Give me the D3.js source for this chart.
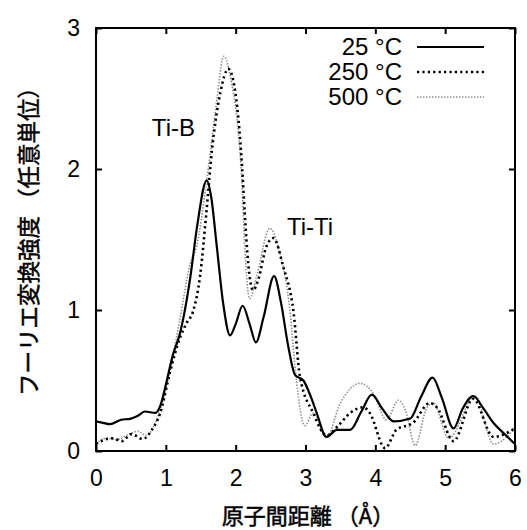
<!DOCTYPE html>
<html>
<head>
<meta charset="utf-8">
<script src="https://cdn.jsdelivr.net/npm/d3@7"></script>
<style>
  body { margin: 0; background: #fff; }
  text { font-family: "Liberation Sans", Arial, sans-serif; fill: #000; }
  .cjk { font-family: "Noto Sans CJK JP", sans-serif; }
</style>
</head>
<body>
<svg width="527" height="530"></svg>
<script>
// values: [distance (Å), intensity]
const series25 = [
  [0, 0.21], [0.1, 0.2], [0.2, 0.19], [0.35, 0.22], [0.5, 0.23], [0.6, 0.25],
  [0.7, 0.28], [0.85, 0.27], [0.92, 0.32], [1.0, 0.47], [1.1, 0.68], [1.2, 0.83],
  [1.35, 1.23], [1.45, 1.6], [1.585, 1.92], [1.65, 1.8], [1.73, 1.45], [1.82, 1.05],
  [1.92, 0.82], [2.0, 0.9], [2.1, 1.03], [2.2, 0.9], [2.29, 0.77], [2.4, 0.95],
  [2.55, 1.24], [2.65, 1.05], [2.75, 0.75], [2.85, 0.54], [2.97, 0.5], [3.08, 0.38],
  [3.16, 0.27], [3.3, 0.1], [3.45, 0.15], [3.64, 0.15], [3.8, 0.28], [3.95, 0.4],
  [4.1, 0.3], [4.26, 0.21], [4.5, 0.23], [4.65, 0.38], [4.82, 0.52], [4.95, 0.38],
  [5.12, 0.16], [5.25, 0.3], [5.4, 0.39], [5.55, 0.3], [5.69, 0.2], [5.85, 0.12],
  [6.0, 0.05]
];

const series250 = [
  [0, 0.05], [0.12, 0.08], [0.24, 0.09], [0.37, 0.07], [0.51, 0.12], [0.67, 0.085],
  [0.8, 0.15], [0.92, 0.27], [1.06, 0.56], [1.2, 0.8], [1.3, 0.91], [1.39, 0.99],
  [1.49, 1.24], [1.58, 1.69], [1.66, 2.13], [1.78, 2.54], [1.895, 2.71], [2.01, 2.49],
  [2.1, 1.95], [2.13, 1.69], [2.18, 1.33], [2.25, 1.14], [2.32, 1.21], [2.44, 1.45],
  [2.54, 1.51], [2.68, 1.31], [2.83, 0.98], [2.92, 0.53], [3.11, 0.27], [3.3, 0.11],
  [3.47, 0.18], [3.64, 0.27], [3.83, 0.31], [3.92, 0.27], [4.14, 0.02], [4.3, 0.15],
  [4.54, 0.2], [4.78, 0.34], [4.88, 0.31], [5.12, 0.07], [5.4, 0.37], [5.69, 0.1],
  [6.0, 0.16]
];

const series500 = [
  [0, 0.05], [0.15, 0.09], [0.3, 0.08], [0.44, 0.11], [0.6, 0.14], [0.72, 0.11],
  [0.85, 0.2], [0.96, 0.36], [1.06, 0.57], [1.2, 0.93], [1.35, 1.33], [1.44, 1.45],
  [1.58, 1.9], [1.63, 2.09], [1.73, 2.49], [1.83, 2.8], [1.94, 2.61], [2.04, 2.25],
  [2.09, 1.9], [2.13, 1.45], [2.2, 1.08], [2.3, 1.24], [2.49, 1.58], [2.61, 1.45],
  [2.78, 0.98], [2.87, 0.5], [2.99, 0.18], [3.11, 0.27], [3.3, 0.1], [3.5, 0.34],
  [3.78, 0.48], [3.97, 0.41], [4.16, 0.22], [4.33, 0.36], [4.43, 0.29], [4.57, 0.04],
  [4.74, 0.31], [4.83, 0.34], [5.05, 0.09], [5.43, 0.39], [5.69, 0.05], [5.88, 0.1],
  [6.0, 0.17]
];

const xTicks = [0, 1, 2, 3, 4, 5, 6];
const yTicks = [0, 1, 2, 3];

const legendLabels = ["25 °C", "250 °C", "500 °C"];
const peakLabels = [
  {text: "Ti-B",  x: 0.8,   y: 2.234},
  {text: "Ti-Ti", x: 2.735, y: 1.532}
];

const xTitle = "原子間距離 （Å）";
const yTitle = "フーリエ変換強度 （任意単位）";

const svg = d3.select("svg");

const margin = {left: 96, right: 12, top: 28, bottom: 79};
const width  = 527 - margin.left - margin.right;
const height = 530 - margin.top - margin.bottom;

const x = d3.scaleLinear().domain([0, 6]).range([margin.left, margin.left + width]);
const y = d3.scaleLinear().domain([0, 3]).range([margin.top + height, margin.top]);

const styles = [
  {data: series25,  stroke: "#000", width: 2.2, dash: null},
  {data: series250, stroke: "#000", width: 2.6, dash: "2.2,3.2"},
  {data: series500, stroke: "#8a8a8a", width: 1.6, dash: "1.4,1.6"}
];

const line = d3.line()
  .curve(d3.curveMonotoneX)
  .x(d => x(d[0]))
  .y(d => y(d[1]));

const plot = svg.append("g");

plot.append("defs").append("clipPath").attr("id", "clip")
  .append("rect")
  .attr("x", x(0)).attr("y", y(3))
  .attr("width", width).attr("height", height);

styles.slice().reverse().forEach(function(s) {
  plot.append("path")
    .datum(s.data)
    .attr("d", line)
    .attr("clip-path", "url(#clip)")
    .attr("fill", "none")
    .attr("stroke", s.stroke)
    .attr("stroke-width", s.width)
    .attr("stroke-dasharray", s.dash);
});

// axes, ticks inward, mirrored on top and right
const tickLen = 6;
const fontSize = 23;

svg.append("g")
  .attr("transform", `translate(0,${y(0)})`)
  .call(d3.axisBottom(x).tickValues(xTicks).tickSize(-tickLen).tickPadding(19).tickFormat(d3.format("d")))
  .call(g => g.select(".domain").remove());
svg.append("g")
  .attr("transform", `translate(0,${y(3)})`)
  .call(d3.axisTop(x).tickValues(xTicks).tickSize(-tickLen).tickFormat(""))
  .call(g => g.select(".domain").remove());
svg.append("g")
  .attr("transform", `translate(${x(0)},0)`)
  .call(d3.axisLeft(y).tickValues(yTicks).tickSize(-tickLen).tickPadding(16).tickFormat(d3.format("d")))
  .call(g => g.select(".domain").remove());
svg.append("g")
  .attr("transform", `translate(${x(6)},0)`)
  .call(d3.axisRight(y).tickValues(yTicks).tickSize(-tickLen).tickFormat(""))
  .call(g => g.select(".domain").remove());

svg.selectAll(".tick line").attr("stroke", "#000").attr("stroke-width", 2);
svg.selectAll(".tick text")
  .attr("font-size", fontSize)
  .attr("font-family", "Liberation Sans, Arial, sans-serif")
  .attr("fill", "#000");

svg.append("rect")
  .attr("x", x(0)).attr("y", y(3))
  .attr("width", width).attr("height", height)
  .attr("fill", "none")
  .attr("stroke", "#000")
  .attr("stroke-width", 2);

// legend
const legend = svg.append("g");
legendLabels.forEach(function(label, i) {
  const cy = 47 + i * 25;
  legend.append("text")
    .attr("x", 402).attr("y", cy)
    .attr("dy", "0.35em")
    .attr("text-anchor", "end")
    .attr("font-size", 24)
    .text(label);
  legend.append("line")
    .attr("x1", 417).attr("x2", 484)
    .attr("y1", cy).attr("y2", cy)
    .attr("stroke", styles[i].stroke)
    .attr("stroke-width", styles[i].width)
    .attr("stroke-dasharray", styles[i].dash);
});

// peak labels
svg.selectAll("text.peak")
  .data(peakLabels)
  .enter()
  .append("text")
  .attr("class", "peak")
  .attr("x", d => x(d.x))
  .attr("y", d => y(d.y))
  .attr("font-size", 24)
  .text(d => d.text);

// axis titles
svg.append("text")
  .attr("class", "cjk")
  .attr("x", 308).attr("y", 524)
  .attr("text-anchor", "middle")
  .attr("font-size", 22)
  .attr("stroke", "#000")
  .attr("stroke-width", 0.5)
  .text(xTitle);

svg.append("text")
  .attr("class", "cjk")
  .attr("transform", "translate(37,236) rotate(-90)")
  .attr("text-anchor", "middle")
  .attr("font-size", 22.5)
  .attr("stroke", "#000")
  .attr("stroke-width", 0.5)
  .text(yTitle);
</script>
</body>
</html>
